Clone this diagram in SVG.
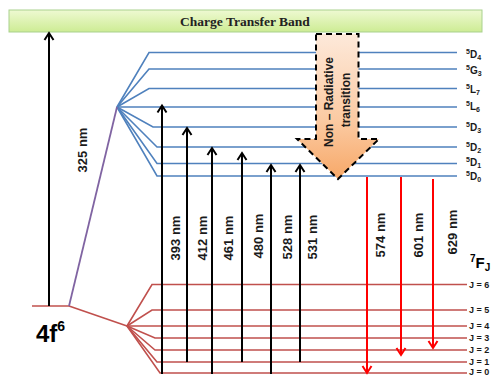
<svg xmlns="http://www.w3.org/2000/svg" width="495" height="376" viewBox="0 0 495 376">
<style>
.blue{fill:none;stroke:#4f81bd;stroke-width:1.6}
.red{fill:none;stroke:#c0504d;stroke-width:1.6}
.blk{fill:none;stroke:#000;stroke-width:2}
.rar{fill:none;stroke:#ff0000;stroke-width:2}
.nm{font-family:"Liberation Sans",Arial,sans-serif;font-size:13px;font-weight:bold;fill:#1a1a1a}
.st{font-family:"Liberation Sans",Arial,sans-serif;font-size:10px;font-weight:bold;fill:#1a1a1a}
.j{font-family:"Liberation Sans",Arial,sans-serif;font-size:9px;font-weight:bold;fill:#1a1a1a}
</style>
<defs>
<linearGradient id="gCTB" x1="0" y1="0" x2="0" y2="1">
<stop offset="0" stop-color="#eef9d2"/><stop offset="1" stop-color="#cdec94"/>
</linearGradient>
<linearGradient id="gNR" x1="0" y1="0" x2="0" y2="1">
<stop offset="0" stop-color="#fde9da"/><stop offset="0.6" stop-color="#fbcaa2"/><stop offset="1" stop-color="#f7a868"/>
</linearGradient>
<marker id="hb" markerUnits="userSpaceOnUse" markerWidth="12" markerHeight="12" viewBox="-8 -6 10 12" refX="0" refY="0" orient="auto" overflow="visible">
<path d="M-7,-4.5 L0,0 L-7,4.5" fill="none" stroke="#000" stroke-width="2"/>
</marker>
<marker id="hr" markerUnits="userSpaceOnUse" markerWidth="12" markerHeight="12" viewBox="-8 -6 10 12" refX="0" refY="0" orient="auto" overflow="visible">
<path d="M-7,-4.5 L0,0 L-7,4.5" fill="none" stroke="#ff0000" stroke-width="2"/>
</marker>
</defs>
<rect width="495" height="376" fill="#fff"/>

<g id="ctb">
<rect x="9" y="10" width="473" height="22" fill="url(#gCTB)" stroke="#a9d18e" stroke-width="1"/>
<text x="245" y="25.5" text-anchor="middle" font-family="'Liberation Serif','Times New Roman',serif" font-size="13.5" font-weight="bold" fill="#222">Charge Transfer Band</text>
</g>

<g id="ground-4f6">
<path class="red" d="M32,306 H69"/>
<text x="36" y="342" font-family="'Liberation Sans',Arial,sans-serif" font-size="24" font-weight="bold" fill="#000">4f<tspan dy="-11" font-size="14">6</tspan></text>
</g>

<g id="levels-5D">
<path class="blue" d="M117,107 L149,52.5 H457"/>
<path class="blue" d="M117,107 L149,69 H457"/>
<path class="blue" d="M117,107 L149,88.5 H457"/>
<path class="blue" d="M117,107 H457"/>
<path class="blue" d="M117,107 L153,127 H457"/>
<path class="blue" d="M117,107 L157,147 H457"/>
<path class="blue" d="M117,107 L157,163.5 H457"/>
<path class="blue" d="M117,107 L157,176 H457"/>
<text class="st" x="466" y="58"><tspan font-size="7" dy="-4">5</tspan><tspan dy="4">D</tspan><tspan font-size="7" dy="2">4</tspan></text>
<text class="st" x="466" y="74"><tspan font-size="7" dy="-4">5</tspan><tspan dy="4">G</tspan><tspan font-size="7" dy="2">3</tspan></text>
<text class="st" x="466" y="93"><tspan font-size="7" dy="-4">5</tspan><tspan dy="4">L</tspan><tspan font-size="7" dy="2">7</tspan></text>
<text class="st" x="466" y="110"><tspan font-size="7" dy="-4">5</tspan><tspan dy="4">L</tspan><tspan font-size="7" dy="2">6</tspan></text>
<text class="st" x="466" y="131"><tspan font-size="7" dy="-4">5</tspan><tspan dy="4">D</tspan><tspan font-size="7" dy="2">3</tspan></text>
<text class="st" x="466" y="151"><tspan font-size="7" dy="-4">5</tspan><tspan dy="4">D</tspan><tspan font-size="7" dy="2">2</tspan></text>
<text class="st" x="466" y="166"><tspan font-size="7" dy="-4">5</tspan><tspan dy="4">D</tspan><tspan font-size="7" dy="2">1</tspan></text>
<text class="st" x="466" y="180"><tspan font-size="7" dy="-4">5</tspan><tspan dy="4">D</tspan><tspan font-size="7" dy="2">0</tspan></text>
</g>

<g id="levels-7F">
<path class="red" d="M69,306 L127,326"/>
<path class="red" d="M127,326 L152,284.5 H467"/>
<path class="red" d="M127,326 L152,310 H467"/>
<path class="red" d="M127,326 H467"/>
<path class="red" d="M127,326 L155,338 H467"/>
<path class="red" d="M127,326 L155,350 H467"/>
<path class="red" d="M127,326 L157,362 H467"/>
<path class="red" d="M127,326 L160,373 H467"/>
<text x="470" y="268" font-family="'Liberation Sans',Arial,sans-serif" font-size="15" font-weight="bold" fill="#000"><tspan font-size="10" dy="-6">7</tspan><tspan dy="6">F</tspan><tspan font-size="10" dy="3">J</tspan></text>
<text class="j" x="469" y="287.5">J = 6</text>
<text class="j" x="469" y="313">J = 5</text>
<text class="j" x="469" y="328.5">J = 4</text>
<text class="j" x="469" y="341">J = 3</text>
<text class="j" x="469" y="353">J = 2</text>
<text class="j" x="469" y="364.5">J = 1</text>
<text class="j" x="469" y="375">J = 0</text>
</g>

<g id="connectors">
<path d="M69,306 L117,107" fill="none" stroke="#8064a2" stroke-width="1.8"/>
<path class="blk" d="M49,306 V33" marker-end="url(#hb)"/>
<path class="blk" d="M162,374 V105.5" marker-end="url(#hb)"/>
<path class="blk" d="M187,362 V128" marker-end="url(#hb)"/>
<path class="blk" d="M212,374 V148" marker-end="url(#hb)"/>
<path class="blk" d="M242,362 V153" marker-end="url(#hb)"/>
<path class="blk" d="M271,374 V165" marker-end="url(#hb)"/>
<path class="blk" d="M300,362 V165" marker-end="url(#hb)"/>
<path class="rar" d="M367,177 V373" marker-end="url(#hr)"/>
<path class="rar" d="M401,177 V355" marker-end="url(#hr)"/>
<path class="rar" d="M433,179 V348" marker-end="url(#hr)"/>
<g class="nm">
<text transform="translate(82,150) rotate(-90)" text-anchor="middle" dy="0.35em">325 nm</text>
<text transform="translate(175,238) rotate(-90)" text-anchor="middle" dy="0.35em">393 nm</text>
<text transform="translate(202,238) rotate(-90)" text-anchor="middle" dy="0.35em">412 nm</text>
<text transform="translate(228,238) rotate(-90)" text-anchor="middle" dy="0.35em">461 nm</text>
<text transform="translate(258,236) rotate(-90)" text-anchor="middle" dy="0.35em">480 nm</text>
<text transform="translate(287,237) rotate(-90)" text-anchor="middle" dy="0.35em">528 nm</text>
<text transform="translate(312,237) rotate(-90)" text-anchor="middle" dy="0.35em">531 nm</text>
<text transform="translate(380,235) rotate(-90)" text-anchor="middle" dy="0.35em">574 nm</text>
<text transform="translate(418,235) rotate(-90)" text-anchor="middle" dy="0.35em">601 nm</text>
<text transform="translate(452,232) rotate(-90)" text-anchor="middle" dy="0.35em">629 nm</text>
</g>
</g>

<g id="non-radiative">
<path d="M316,34 H358.5 V139 H379 L338,179 L297,139 H316 Z" fill="url(#gNR)" stroke="#000" stroke-width="2" stroke-dasharray="6,4" stroke-linejoin="miter"/>
<text transform="translate(329,102) rotate(-90)" text-anchor="middle" dy="0.35em" font-family="'Liberation Sans',Arial,sans-serif" font-size="12" font-weight="bold" fill="#1a1a1a">Non – Radiative</text>
<text transform="translate(346,100) rotate(-90)" text-anchor="middle" dy="0.35em" font-family="'Liberation Sans',Arial,sans-serif" font-size="12" font-weight="bold" fill="#1a1a1a">transition</text>
</g>
</svg>
